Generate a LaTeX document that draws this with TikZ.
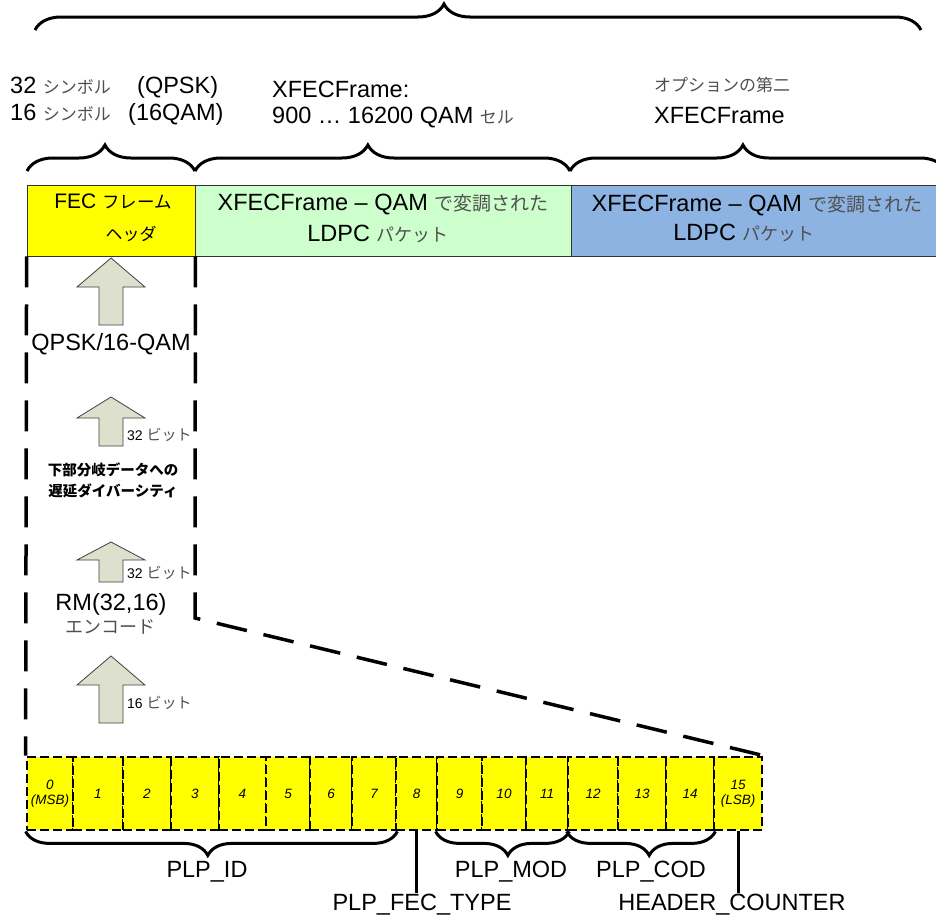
\documentclass[tikz,border=0pt]{standalone}
\usepackage{fontspec}
\setmainfont{Liberation Sans}
\newfontfamily\jp{Noto Sans CJK JP}
\usetikzlibrary{decorations.pathreplacing}
\definecolor{hdryellow}{HTML}{FFFF00}
\definecolor{hdrgreen}{HTML}{CCFFCC}
\definecolor{hdrblue}{HTML}{8DB3E2}
\definecolor{arrowfill}{HTML}{DDE0CC}
\definecolor{jpgray}{HTML}{505050}
\newcommand\jpt[2]{{\jp\fontsize{#1}{#1}\selectfont\color{jpgray}#2}}
\newcommand\jpk[2]{{\jp\fontsize{#1}{#1}\selectfont #2}}
\newcommand\upblock[5]{%
 \draw[blockarrow] (#2,#3) coordinate (#1) -- ({#2+34},#4) -- ({#2+12},#4) -- ({#2+12},#5) -- ({#2-12},#5) -- ({#2-12},#4) -- ({#2-34},#4) -- cycle;}
\begin{document}
\begin{tikzpicture}[x=1pt,y=-1pt,
  brc/.style={draw, line width=3pt, decorate, decoration={brace, amplitude=26pt, aspect=#1}},
  mbrc/.style={draw, line width=3pt, decorate, decoration={brace, mirror, amplitude=24pt, aspect=#1}},
  big/.style={inner sep=0pt, font=\fontsize{23.5}{26}\selectfont},
  mid/.style={inner sep=0pt, font=\fontsize{21}{24}\selectfont},
  small/.style={inner sep=0pt, font=\fontsize{14}{16}\selectfont},
  hbox/.style={draw=black!80, line width=0.8pt, minimum height=71pt, inner sep=0pt},
  bigdash/.style={line width=3.5pt, dash pattern=on 31pt off 17pt},
  bitcell/.style={draw, fill=hdryellow, line width=2.8pt, dash pattern=on 9pt off 4pt, minimum height=73pt, inner sep=0pt, align=center, font=\itshape\fontsize{13.5}{15}\selectfont},
  blockarrow/.style={fill=arrowfill, draw=black!75, line width=0.8pt, line join=miter},
  stem/.style={line width=3pt}
]
\useasboundingbox (0,0) rectangle (936,918);
\begin{scope}
\clip (0,0) rectangle (936,918);
% top brace
\coordinate (tb1) at (35,30);
\coordinate (tb2) at (921,30);
\draw[brc=0.4616] (tb1) -- (tb2);
% second-row braces
\coordinate (rb0) at (27,171);
\coordinate (rb1) at (195,171);
\coordinate (rb2) at (570,171);
\coordinate (rb3) at (946,171);
\draw[brc=0.464] (rb0) -- (rb1);
\draw[brc=0.461] (rb1) -- (rb2);
\draw[brc=0.46] (rb2) -- (rb3);
% top labels
\node[big, anchor=base west] (s32) at (10,93) {32 \jpt{17}{シンボル}};
\node[big, anchor=base west] (qpsk) at (137,93) {(QPSK)};
\node[big, anchor=base west] (s16) at (10,120) {16 \jpt{17}{シンボル}};
\node[big, anchor=base west] (qam16) at (128,120) {(16QAM)};
\node[big, anchor=base west] (xf1) at (272,97) {XFECFrame:};
\node[big, anchor=base west] (xf2) at (272,123) {900 … 16200 QAM \jpt{17}{セル}};
\node[inner sep=0pt, anchor=base west] (opt) at (654,91) {\jpt{17}{オプションの第二}};
\node[big, anchor=base west] (xf3) at (654,123) {XFECFrame};
% header boxes
\node[hbox, fill=hdryellow, minimum width=168pt] (hdrA) at (111,220.5) {};
\node[hbox, fill=hdrgreen, minimum width=376pt] (hdrB) at (383,220.5) {};
\node[hbox, fill=hdrblue, minimum width=365pt] (hdrC) at (753.5,220.5) {};
\node[mid, anchor=base] (tA1) at (113,208) {FEC \jpk{17.5}{フレーム}};
\node[inner sep=0pt, anchor=base] (tA2) at (131,240) {\jpk{17}{ヘッダ}};
\node[big, anchor=base] (tB1) at (383,210) {XFECFrame – QAM \jpt{19}{で変調された}};
\node[big, anchor=base] (tB2) at (378,241) {LDPC \jpt{18}{パケット}};
\node[big, anchor=base] (tC1) at (757,211) {XFECFrame – QAM \jpt{19}{で変調された}};
\node[big, anchor=base] (tC2) at (744,240) {LDPC \jpt{18}{パケット}};
% bit cells
\foreach \n/\l/\r/\t in {0/27/73/{0\\(MSB)},1/73/123/1,2/123/171/2,3/171/219/3,4/219/266/4,5/266/310/5,6/310/352/6,7/352/396/7,8/396/437/8,9/437/482/9,10/482/526/10,11/526/568/11,12/568/618/12,13/618/666/13,14/666/714/14,15/714/762/{15\\(LSB)}}
  \node[bitcell, minimum width={(\r-\l)*1pt}] (b\n) at ({(\l+\r)/2},793.5) {\t};
% dashed zoom lines
\coordinate (bend) at (195,618);
\draw[bigdash] (hdrA.south west) -- (b0.north west);
\draw[bigdash] (hdrA.south east) -- (bend) -- (b15.north east);
% block arrows
\upblock{arA}{111}{258}{287}{325}
\upblock{arB}{111}{397}{418}{446}
\upblock{arC}{111}{542}{560}{582}
\upblock{arD}{111}{656}{685}{723}
% left column labels
\node[big, anchor=base] (qpsklbl) at (111,350) {QPSK/16-QAM};
\node[small, anchor=base west] (bitsA) at (127,440) {32 \jpt{15}{ビット}};
\node[inner sep=0pt, anchor=base, font=\jp\bfseries\fontsize{14.5}{16}\selectfont] (dlyA) at (113,475) {下部分岐データへの};
\node[inner sep=0pt, anchor=base, font=\jp\bfseries\fontsize{14.5}{16}\selectfont] (dlyB) at (113,496) {遅延ダイバーシティ};
\node[small, anchor=base west] (bitsB) at (127,578) {32 \jpt{15}{ビット}};
\node[big, anchor=base] (rm) at (111,610) {RM(32,16)};
\node[inner sep=0pt, anchor=base] (enc) at (110,633) {\jpt{18}{エンコード}};
\node[small, anchor=base west] (bitsC) at (127,708) {16 \jpt{15}{ビット}};
% field braces and labels
\draw[mbrc=0.49] (b0.south west) -- (b7.south east);
\draw[mbrc=0.54] (b9.south west) -- (b11.south east);
\draw[mbrc=0.555] (b12.south west) -- (b14.south east);
\node[big, anchor=base] (lid) at (207,877) {PLP\_ID};
\node[big, anchor=base] (lfec) at (422,910) {PLP\_FEC\_TYPE};
\node[big, anchor=base] (lmod) at (511,877) {PLP\_MOD};
\node[big, anchor=base] (lcod) at (651,877) {PLP\_COD};
\node[big, anchor=base] (lhc) at (732,910) {HEADER\_COUNTER};
\draw[stem] (b8.south) -- (b8.south |- lfec.north);
\draw[stem] (b15.south) -- (b15.south |- lhc.north);
\end{scope}
\end{tikzpicture}
\end{document}
